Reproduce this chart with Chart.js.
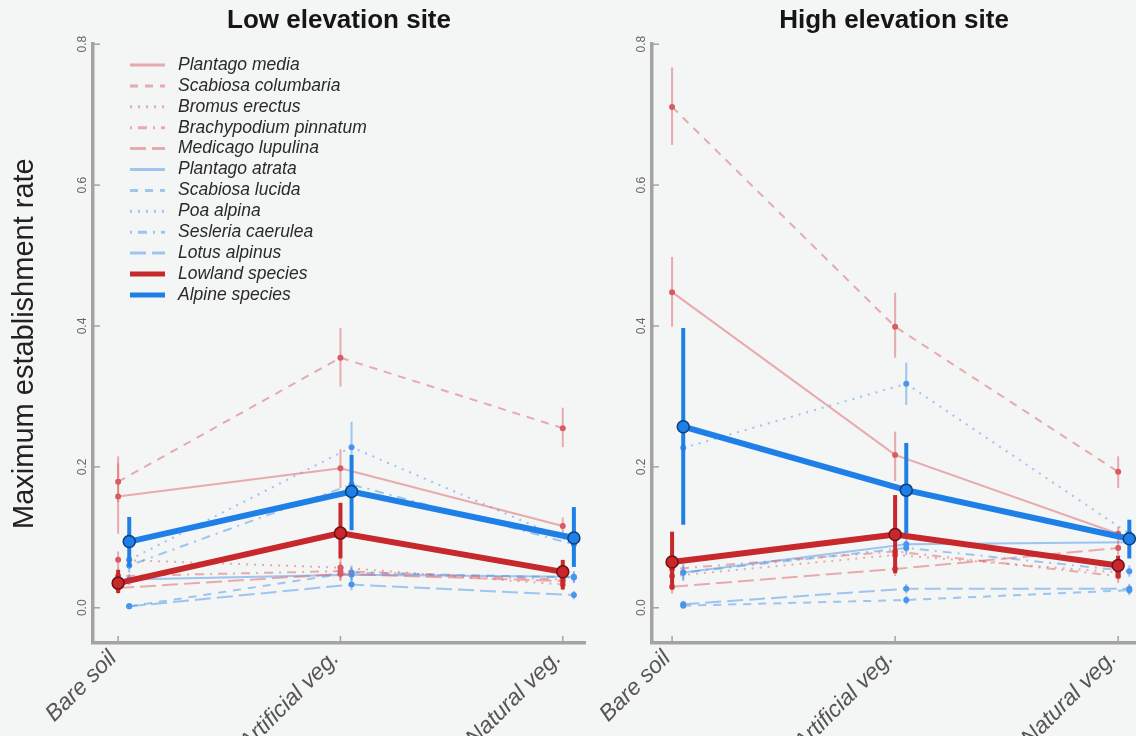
<!DOCTYPE html>
<html>
<head>
<meta charset="utf-8">
<script src="https://cdn.jsdelivr.net/npm/chart.js@4.4.1/dist/chart.umd.min.js"></script>
<style>
    html, body { margin: 0; padding: 0; background: #f4f5f5; }
    #wrap { position: relative; width: 1136px; height: 736px; overflow: hidden; }
    #lowChart { position: absolute; left: 0; top: 0; }
    #highChart { position: absolute; left: 590px; top: 0; }
</style>
</head>
<body>
<div id="wrap">
    <canvas id="lowChart" width="590" height="736"></canvas>
    <canvas id="highChart" width="546" height="736"></canvas>
</div>
<script>
// Establishment rate by treatment, two sites

const treatments = ['Bare soil', 'Artificial veg.', 'Natural veg.'];
const yTicks = [0.0, 0.2, 0.4, 0.6, 0.8];
const seriesNames = [
    'Plantago media', 'Scabiosa columbaria', 'Bromus erectus', 'Brachypodium pinnatum', 'Medicago lupulina',
    'Plantago atrata', 'Scabiosa lucida', 'Poa alpina', 'Sesleria caerulea', 'Lotus alpinus',
    'Lowland species', 'Alpine species'
];

// Low elevation site (rows follow seriesNames, columns follow treatments)
const lowMeans = [
    [0.158, 0.198, 0.116],
    [0.179, 0.355, 0.255],
    [0.068, 0.057, 0.033],
    [0.045, 0.052, 0.040],
    [0.028, 0.048, 0.038],
    [0.040, 0.047, 0.044],
    [0.002, 0.050, 0.043],
    [0.068, 0.228, 0.092],
    [0.060, 0.175, 0.090],
    [0.002, 0.033, 0.018],
    [0.035, 0.106, 0.051],
    [0.094, 0.165, 0.099]
];
const lowLower = [
    [0.105, 0.170, 0.105],
    [0.150, 0.314, 0.228],
    [0.055, 0.045, 0.025],
    [0.035, 0.040, 0.030],
    [0.020, 0.038, 0.030],
    [0.032, 0.038, 0.036],
    [0.000, 0.040, 0.035],
    [0.055, 0.190, 0.080],
    [0.050, 0.150, 0.075],
    [0.000, 0.025, 0.012],
    [0.021, 0.070, 0.026],
    [0.058, 0.110, 0.058]
];
const lowUpper = [
    [0.205, 0.225, 0.128],
    [0.215, 0.397, 0.284],
    [0.080, 0.070, 0.042],
    [0.055, 0.065, 0.050],
    [0.036, 0.058, 0.046],
    [0.048, 0.056, 0.052],
    [0.006, 0.060, 0.050],
    [0.080, 0.264, 0.105],
    [0.070, 0.200, 0.105],
    [0.006, 0.042, 0.024],
    [0.054, 0.149, 0.068],
    [0.129, 0.217, 0.143]
];

// High elevation site
const highMeans = [
    [0.448, 0.217, 0.105],
    [0.711, 0.399, 0.193],
    [0.045, 0.075, 0.050],
    [0.055, 0.080, 0.045],
    [0.030, 0.055, 0.085],
    [0.050, 0.090, 0.093],
    [0.003, 0.011, 0.025],
    [0.227, 0.318, 0.105],
    [0.050, 0.085, 0.052],
    [0.005, 0.027, 0.027],
    [0.065, 0.104, 0.060],
    [0.257, 0.167, 0.098]
];
const highLower = [
    [0.399, 0.180, 0.095],
    [0.657, 0.355, 0.170],
    [0.035, 0.060, 0.040],
    [0.045, 0.065, 0.035],
    [0.020, 0.045, 0.075],
    [0.040, 0.080, 0.085],
    [0.000, 0.005, 0.018],
    [0.200, 0.288, 0.095],
    [0.038, 0.075, 0.044],
    [0.000, 0.020, 0.020],
    [0.026, 0.049, 0.042],
    [0.118, 0.106, 0.070]
];
const highUpper = [
    [0.498, 0.250, 0.115],
    [0.767, 0.447, 0.215],
    [0.055, 0.090, 0.060],
    [0.065, 0.095, 0.055],
    [0.040, 0.065, 0.095],
    [0.060, 0.100, 0.100],
    [0.007, 0.017, 0.032],
    [0.255, 0.348, 0.115],
    [0.062, 0.095, 0.060],
    [0.010, 0.034, 0.034],
    [0.108, 0.160, 0.074],
    [0.397, 0.234, 0.125]
];

const FONT = "'Liberation Sans', Arial, Helvetica, sans-serif";
Chart.defaults.font.family = FONT;

const dashes = [[], [8, 7], [2, 6], [2, 6, 9, 6], [16, 6]];
const paleRed = 'rgba(222, 96, 102, 0.5)';
const paleBlue = 'rgba(70, 150, 236, 0.5)';
const axisGray = '#a3a3a3';

function buildDatasets(means, lower, upper) {
    return seriesNames.map((name, i) => {
        const isGroup = i >= 10;
        const isAlpine = (i >= 5 && i < 10) || i === 11;
        const shift = isAlpine ? 0.05 : 0;
        let line, point, edge;
        if (isGroup) {
            line = isAlpine ? 'rgb(30, 128, 230)' : 'rgb(198, 40, 44)';
            point = line;
            edge = isAlpine ? '#0b3f7a' : '#6e1013';
        } else {
            line = isAlpine ? paleBlue : paleRed;
            point = isAlpine ? 'rgb(72, 150, 236)' : 'rgb(216, 92, 98)';
            edge = point;
        }
        return {
            label: name,
            data: means[i].map((v, j) => ({ x: j + shift, y: v })),
            lower: lower[i],
            upper: upper[i],
            isGroup: isGroup,
            borderColor: line,
            backgroundColor: line,
            borderWidth: isGroup ? 6 : 2,
            borderDash: isGroup ? [] : dashes[i % 5],
            pointRadius: isGroup ? 6 : 3,
            pointBackgroundColor: point,
            pointBorderColor: edge,
            pointBorderWidth: isGroup ? 1.5 : 0,
            tension: 0,
            order: isGroup ? (isAlpine ? 0 : 1) : 2
        };
    });
}

// error bars, drawn just before each dataset's own line
const errorBars = {
    id: 'errorBars',
    beforeDatasetDraw(chart, args) {
        const ds = chart.data.datasets[args.index];
        const yScale = chart.scales.y;
        const ctx = chart.ctx;
        ctx.save();
        ctx.strokeStyle = ds.borderColor;
        ctx.lineWidth = ds.isGroup ? 4 : 2;
        ctx.setLineDash([]);
        args.meta.data.forEach((pt, j) => {
            ctx.beginPath();
            ctx.moveTo(pt.x, yScale.getPixelForValue(ds.lower[j]));
            ctx.lineTo(pt.x, yScale.getPixelForValue(ds.upper[j]));
            ctx.stroke();
        });
        ctx.restore();
    }
};

// short tick marks pointing into the plot
const innerTicks = {
    id: 'innerTicks',
    afterDraw(chart) {
        const { ctx, chartArea, scales } = chart;
        ctx.save();
        ctx.strokeStyle = axisGray;
        ctx.lineWidth = 1.5;
        scales.y.ticks.forEach(t => {
            const py = scales.y.getPixelForValue(t.value);
            ctx.beginPath();
            ctx.moveTo(chartArea.left, py);
            ctx.lineTo(chartArea.left + 7, py);
            ctx.stroke();
        });
        scales.x.ticks.forEach(t => {
            const px = scales.x.getPixelForValue(t.value);
            ctx.beginPath();
            ctx.moveTo(px, chartArea.bottom);
            ctx.lineTo(px, chartArea.bottom - 7);
            ctx.stroke();
        });
        ctx.restore();
    }
};

// legend inside the plot area of the left panel
const insideLegend = {
    id: 'insideLegend',
    afterDraw(chart, args, opts) {
        if (!opts.show) return;
        const ctx = chart.ctx;
        ctx.save();
        ctx.font = 'italic 17.5px ' + FONT;
        ctx.textBaseline = 'middle';
        ctx.textAlign = 'left';
        chart.data.datasets.forEach((ds, i) => {
            const y = opts.top + i * opts.step;
            ctx.strokeStyle = ds.borderColor;
            ctx.lineWidth = ds.isGroup ? 5 : 3;
            ctx.setLineDash(ds.borderDash);
            ctx.beginPath();
            ctx.moveTo(opts.left, y);
            ctx.lineTo(opts.left + 35, y);
            ctx.stroke();
            ctx.setLineDash([]);
            ctx.fillStyle = '#2a2a2a';
            ctx.fillText(ds.label, opts.left + 48, y);
        });
        ctx.restore();
    }
};

function makeChart(canvasId, title, means, lower, upper, xMin, xMax, yWidth, padRight, showYTitle, showLegend) {
    const ctx = document.getElementById(canvasId).getContext('2d');
    return new Chart(ctx, {
        type: 'line',
        data: { datasets: buildDatasets(means, lower, upper) },
        plugins: [errorBars, innerTicks, insideLegend],
        options: {
            responsive: false,
            animation: false,
            devicePixelRatio: 1,
            layout: { padding: { left: 0, top: 0, bottom: 0, right: padRight }, autoPadding: false },
            plugins: {
                legend: { display: false },
                tooltip: { enabled: false },
                title: {
                    display: true,
                    text: title,
                    fullSize: false,
                    color: '#161616',
                    font: { size: 26, weight: 'bold' },
                    padding: { top: 5, bottom: 8 }
                },
                insideLegend: { show: showLegend, left: 130, top: 65, step: 20.9 }
            },
            scales: {
                x: {
                    type: 'linear',
                    min: xMin,
                    max: xMax,
                    grid: { display: false, drawTicks: false },
                    border: { display: true, color: axisGray, width: 3.5 },
                    afterBuildTicks: (scale) => {
                        scale.ticks = treatments.map((t, i) => ({ value: i }));
                    },
                    afterFit: (scale) => {
                        scale.height = 93;
                        scale.paddingLeft = 0;
                        scale.paddingRight = 0;
                    },
                    ticks: {
                        minRotation: 45,
                        maxRotation: 45,
                        padding: 2,
                        labelOffset: -5,
                        color: '#555',
                        font: { size: 23, style: 'italic' },
                        callback: (v) => treatments[v]
                    }
                },
                y: {
                    type: 'linear',
                    min: -0.05,
                    max: 0.8,
                    grid: { display: false, drawTicks: false },
                    border: { display: true, color: axisGray, width: 3.5 },
                    afterBuildTicks: (scale) => {
                        scale.ticks = yTicks.map(v => ({ value: v }));
                    },
                    afterFit: (scale) => {
                        scale.width = yWidth;
                        scale.paddingTop = 0;
                        scale.paddingBottom = 0;
                    },
                    title: {
                        display: showYTitle,
                        text: 'Maximum establishment rate',
                        color: '#222',
                        font: { size: 29 },
                        padding: { top: 8, bottom: 0 }
                    },
                    ticks: {
                        minRotation: 90,
                        maxRotation: 90,
                        crossAlign: 'center',
                        padding: 2,
                        color: '#666',
                        font: { size: 12 },
                        callback: (v) => v.toFixed(1)
                    }
                }
            }
        }
    });
}

makeChart('lowChart', 'Low elevation site', lowMeans, lowLower, lowUpper, -0.113, 2.1, 93, 5, true, true);
makeChart('highChart', 'High elevation site', highMeans, highLower, highUpper, -0.09, 2.08, 62, 0, false, false);
</script>
</body>
</html>
